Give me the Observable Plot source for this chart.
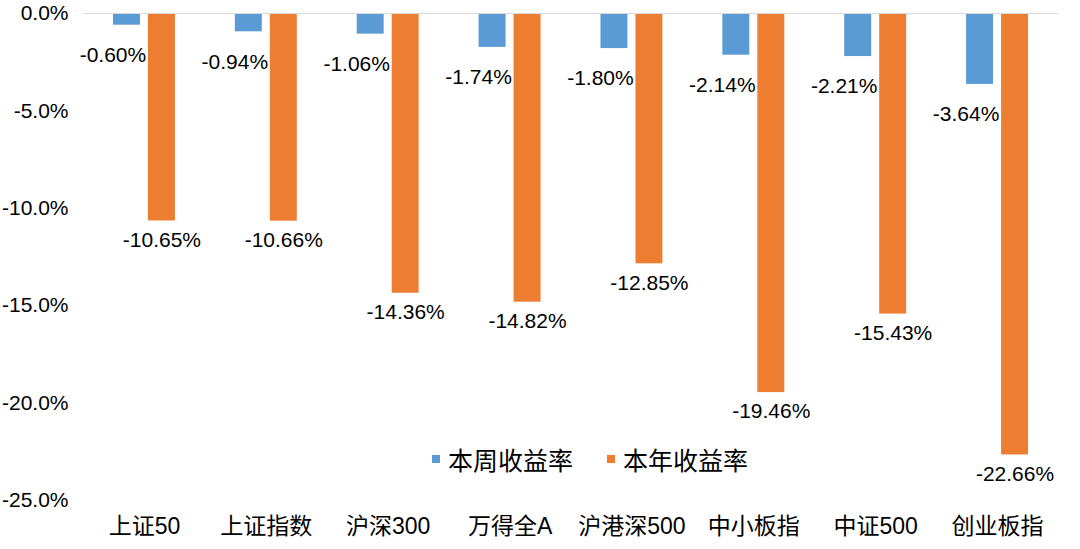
<!DOCTYPE html>
<html>
<head>
<meta charset="utf-8">
<script src="https://cdn.jsdelivr.net/npm/d3@7"></script>
<script src="https://cdn.jsdelivr.net/npm/@observablehq/plot@0.6"></script>
<style>
  body { margin: 0; background: white; }
  #wrap { position: relative; width: 1080px; height: 549px; font-family: "Liberation Sans", "Noto Sans CJK SC", sans-serif; }
  #legend { position: absolute; left: 432px; top: 441px; display: flex; gap: 34px; font-size: 25px; color: #000; font-family: "Noto Sans CJK SC", sans-serif; }
  #legend .item { display: flex; align-items: center; }
  #legend .sw { width: 8px; height: 8px; margin-right: 8px; }
</style>
</head>
<body>
<div id="wrap"><div id="chart"></div><div id="legend"></div></div>
<script>
const categories = ["上证50", "上证指数", "沪深300", "万得全A", "沪港深500", "中小板指", "中证500", "创业板指"];
const weeklyReturn = [-0.60, -0.94, -1.06, -1.74, -1.80, -2.14, -2.21, -3.64];
const ytdReturn = [-10.65, -10.66, -14.36, -14.82, -12.85, -19.46, -15.43, -22.66];
const seriesNames = ["本周收益率", "本年收益率"];
const seriesColors = ["#5B9BD5", "#ED7D31"];
const yTicks = [0, -5, -10, -15, -20, -25];

const data = categories.flatMap((c, i) => [
  {cat: c, series: seriesNames[0], value: weeklyReturn[i]},
  {cat: c, series: seriesNames[1], value: ytdReturn[i]}
]);
const fmt = d => d.value.toFixed(2) + "%";

const chart = Plot.plot({
  width: 1080,
  height: 549,
  marginTop: 13,
  marginBottom: 49,
  marginLeft: 83,
  marginRight: 22,
  style: {fontFamily: '"Liberation Sans", "Noto Sans CJK SC", sans-serif', fontSize: "21px", color: "#000", background: "white"},
  fx: {domain: categories, padding: 0, round: false, label: null},
  x: {domain: seriesNames, paddingInner: 0.229, paddingOuter: 0.857, round: false, axis: null},
  y: {domain: [-25, 0], label: null},
  color: {domain: seriesNames, range: seriesColors},
  marks: [
    Plot.barY(data, {fx: "cat", x: "series", y: "value", fill: "series"}),
    Plot.ruleY([0], {stroke: "#D9D9D9", strokeWidth: 1.2}),
    Plot.text(data.filter(d => d.series === seriesNames[0]), {fx: "cat", x: "series", y: "value", text: fmt, dy: 30, dx: -14, fill: "#000", fontSize: 21}),
    Plot.text(data.filter(d => d.series === seriesNames[1]), {fx: "cat", x: "series", y: "value", text: fmt, dy: 19, fill: "#000", fontSize: 21}),
    Plot.axisY({ticks: yTicks, tickFormat: d => d.toFixed(1) + "%", tickSize: 0, tickPadding: 15, fontSize: 21, label: null}),
    Plot.axisFx({anchor: "bottom", tickSize: 0, tickPadding: 17, fontSize: 23, label: null})
  ]
});
document.getElementById("chart").appendChild(chart);

const legend = document.getElementById("legend");
seriesNames.forEach((name, i) => {
  const item = document.createElement("div");
  item.className = "item";
  const sw = document.createElement("span");
  sw.className = "sw";
  sw.style.background = seriesColors[i];
  const label = document.createElement("span");
  label.textContent = name;
  item.appendChild(sw);
  item.appendChild(label);
  legend.appendChild(item);
});
</script>
</body>
</html>
